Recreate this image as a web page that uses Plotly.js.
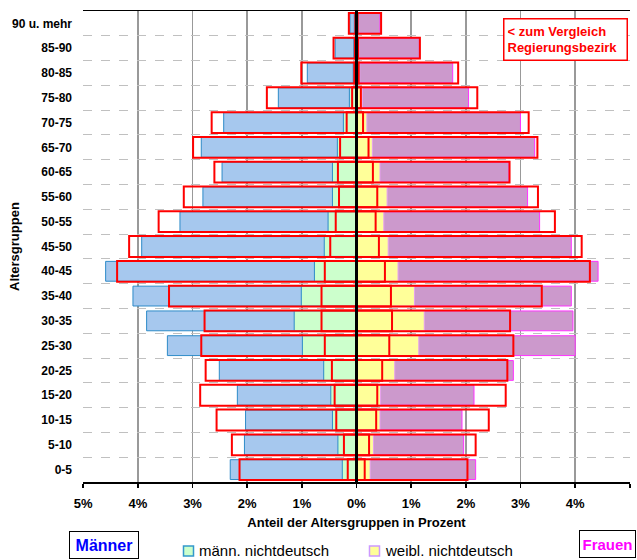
<!DOCTYPE html>
<html>
<head>
<meta charset="utf-8">
<script src="https://cdn.plot.ly/plotly-3.0.1.min.js"></script>
<style>
  html, body { margin: 0; padding: 0; background: #ffffff; }
  #chart { width: 637px; height: 560px; }
</style>
</head>
<body>
<div id="chart"></div>
<script>
// Age groups (bottom to top)
const categories = ['0-5','5-10','10-15','15-20','20-25','25-30','30-35','35-40','40-45','45-50','50-55','55-60','60-65','65-70','70-75','75-80','80-85','85-90','90 u. mehr'];

// Share in percent – city (filled bars)
const maleTotal   = [2.31, 2.05, 2.03, 2.18, 2.51, 3.46, 3.84, 4.09, 4.59, 3.93, 3.23, 2.81, 2.46, 2.84, 2.43, 1.43, 0.90, 0.39, 0.12];
const maleND      = [0.26, 0.34, 0.44, 0.47, 0.60, 0.99, 1.14, 1.01, 0.77, 0.59, 0.52, 0.44, 0.44, 0.35, 0.24, 0.13, 0.06, 0.05, 0.04];
const femaleTotal = [2.18, 1.96, 1.93, 2.15, 2.87, 4.00, 3.96, 3.93, 4.42, 3.93, 3.35, 3.13, 2.79, 3.26, 3.00, 2.05, 1.76, 1.15, 0.43];
const femaleND    = [0.25, 0.31, 0.43, 0.44, 0.70, 1.14, 1.24, 1.06, 0.76, 0.58, 0.50, 0.56, 0.43, 0.29, 0.19, 0.11, 0.06, 0.05, 0.02];

// Share in percent – Regierungsbezirk (red outlines)
const rbMaleTotal   = [2.14, 2.28, 2.56, 2.86, 2.76, 2.84, 2.78, 3.43, 4.38, 4.16, 3.62, 3.16, 2.60, 2.99, 2.65, 1.64, 1.01, 0.42, 0.14];
const rbMaleND      = [0.16, 0.23, 0.37, 0.40, 0.45, 0.58, 0.64, 0.64, 0.58, 0.48, 0.38, 0.32, 0.34, 0.30, 0.18, 0.08, 0.04, 0.03, 0.02];
const rbFemaleTotal = [2.03, 2.18, 2.42, 2.73, 2.76, 2.87, 2.81, 3.39, 4.27, 4.12, 3.63, 3.32, 2.80, 3.31, 3.15, 2.21, 1.86, 1.16, 0.45];
const rbFemaleND    = [0.15, 0.23, 0.36, 0.38, 0.47, 0.60, 0.65, 0.63, 0.52, 0.41, 0.35, 0.38, 0.30, 0.22, 0.12, 0.08, 0.04, 0.03, 0.02];

// X axis ticks
const xTickVals  = [-5, -4, -3, -2, -1, 0, 1, 2, 3, 4, 5];
const xTickTexts = ['5%', '4%', '3%', '2%', '1%', '0%', '1%', '2%', '3%', '4%', '5%'];

const FONT = '"Liberation Sans", Arial, sans-serif';
const neg = a => a.map(v => -v);

function bar(x, fill, lineColor, lineWidth, width, name) {
  return {
    type: 'bar', orientation: 'h', y: categories, x: x, name: name,
    width: width,
    marker: { color: fill, line: { color: lineColor, width: lineWidth } },
    showlegend: false, hoverinfo: 'skip'
  };
}

const traces = [
  bar(neg(maleTotal),  '#A6C8EE', '#2E8BC8', 1, 0.8, 'Männer'),
  bar(neg(maleND),     '#CCFFCC', '#2E8BC8', 1, 0.8, 'männ. nichtdeutsch'),
  bar(femaleTotal,     '#CC99CC', '#FF33FF', 1, 0.8, 'Frauen'),
  bar(femaleND,        '#FFFF99', '#E6A0F0', 1, 0.8, 'weibl. nichtdeutsch'),
  bar(neg(rbMaleTotal), 'rgba(0,0,0,0)', '#FF0000', 2, 0.84, 'RB Männer'),
  bar(neg(rbMaleND),    'rgba(0,0,0,0)', '#FF0000', 2, 0.84, 'RB männ. nichtdeutsch'),
  bar(rbFemaleTotal,    'rgba(0,0,0,0)', '#FF0000', 2, 0.84, 'RB Frauen'),
  bar(rbFemaleND,       'rgba(0,0,0,0)', '#FF0000', 2, 0.84, 'RB weibl. nichtdeutsch')
];

// pixel helpers for paper coordinates
const L = 83, R = 7, T = 11, B = 78, W = 637, H = 560;
const pw = W - L - R, ph = H - T - B;
const px = x => (x - L) / pw;
const py = y => (H - B - y) / ph;

const layout = {
  width: W, height: H,
  margin: { l: L, r: R, t: T, b: B, pad: 0 },
  paper_bgcolor: '#ffffff', plot_bgcolor: '#ffffff',
  barmode: 'overlay',
  font: { family: FONT, color: '#000000' },
  xaxis: {
    range: [-5.004, 5.004], tickvals: xTickVals, ticktext: xTickTexts,
    tickfont: { family: FONT, size: 13, weight: 'bold', color: '#000' },
    ticks: 'outside', ticklen: 4, tickwidth: 1.5, tickcolor: '#000',
    ticklabelstandoff: 5,
    showline: true, linecolor: '#000', linewidth: 1.5, mirror: true,
    showgrid: true, gridcolor: '#999999', gridwidth: 1.5,
    zeroline: false, fixedrange: true,
    title: { text: 'Anteil der Altersgruppen in Prozent', standoff: 8,
             font: { family: FONT, size: 13, weight: 'bold', color: '#000' } }
  },
  yaxis: {
    type: 'category', range: [-0.5, 18.5],
    tickson: 'boundaries', ticks: '', ticklabelstandoff: 10,
    tickfont: { family: FONT, size: 12, weight: 'bold', color: '#000' },
    showgrid: true, gridcolor: '#C0C0C0', gridwidth: 1, griddash: 'dash',
    showline: false, zeroline: false, fixedrange: true
  },
  shapes: [
    { type: 'line', xref: 'x', yref: 'paper', x0: 0, x1: 0, y0: 0, y1: 1,
      line: { color: '#000000', width: 3 }, layer: 'above' },
    { type: 'rect', xref: 'paper', yref: 'paper', x0: px(183.5), x1: px(193.5), y0: py(556), y1: py(546),
      fillcolor: '#CCFFCC', line: { color: '#3399CC', width: 1.5 } },
    { type: 'rect', xref: 'paper', yref: 'paper', x0: px(369.5), x1: px(379.5), y0: py(556), y1: py(546),
      fillcolor: '#FFFF99', line: { color: '#CC99FF', width: 1.5 } }
  ],
  annotations: [
    { xref: 'paper', yref: 'paper', x: px(14.5), y: py(246.5), xanchor: 'center', yanchor: 'middle',
      textangle: -90, showarrow: false,
      text: 'Altersgruppen', font: { family: FONT, size: 13, weight: 'bold', color: '#000' } },
    { xref: 'paper', yref: 'paper', x: px(565), y: py(40), xanchor: 'center', yanchor: 'middle',
      showarrow: false, align: 'left', width: 116, height: 34,
      text: '< zum Vergleich<br>Regierungsbezirk',
      font: { family: FONT, size: 13, weight: 'bold', color: '#FF0000' },
      bgcolor: '#ffffff', bordercolor: '#FF0000', borderwidth: 1.5, borderpad: 3 },
    { xref: 'paper', yref: 'paper', x: px(104.3), y: py(544.5), xanchor: 'center', yanchor: 'middle',
      showarrow: false, width: 64, height: 22, text: 'Männer',
      font: { family: FONT, size: 16, weight: 'bold', color: '#0000FF' },
      bgcolor: '#ffffff', bordercolor: '#000000', borderwidth: 1, borderpad: 2 },
    { xref: 'paper', yref: 'paper', x: px(579), y: py(544), xanchor: 'left', yanchor: 'middle',
      showarrow: false, width: 51, height: 22, align: 'center', text: 'Frauen',
      font: { family: FONT, size: 15, weight: 'bold', color: '#FF00FF' },
      bgcolor: '#ffffff', bordercolor: '#000000', borderwidth: 1, borderpad: 2 },
    { xref: 'paper', yref: 'paper', x: px(197), y: py(550.5), xanchor: 'left', yanchor: 'middle',
      showarrow: false, text: 'männ. nichtdeutsch',
      font: { family: FONT, size: 15, color: '#000' } },
    { xref: 'paper', yref: 'paper', x: px(382.5), y: py(550.5), xanchor: 'left', yanchor: 'middle',
      showarrow: false, text: 'weibl. nichtdeutsch',
      font: { family: FONT, size: 15, color: '#000' } }
  ],
  showlegend: false
};

Plotly.newPlot('chart', traces, layout, { displayModeBar: false, staticPlot: true });
</script>
</body>
</html>
